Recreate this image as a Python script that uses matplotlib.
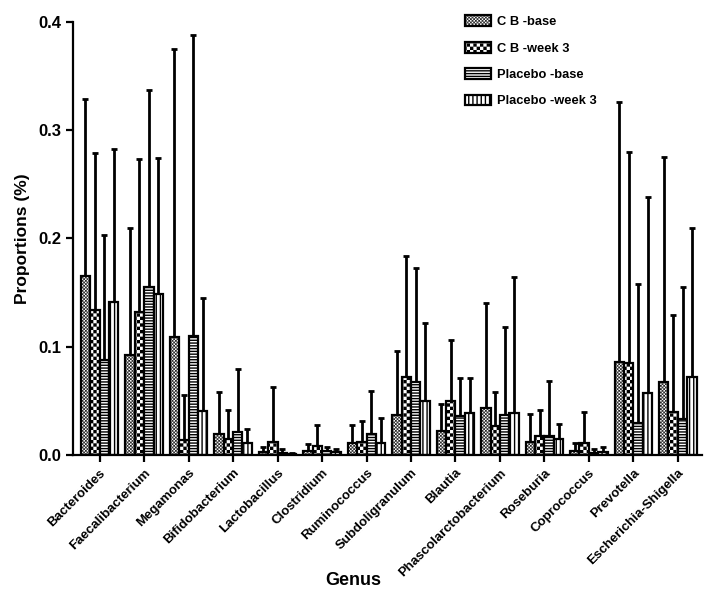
import warnings
import numpy as np
import matplotlib
matplotlib.use("Agg")
import matplotlib.pyplot as plt
from matplotlib import hatch as mhatch
from matplotlib.path import Path

warnings.filterwarnings("ignore")

genera = ["Bacteroides", "Faecalibacterium", "Megamonas", "Bifidobacterium",
          "Lactobacillus", "Clostridium", "Ruminococcus", "Subdoligranulum",
          "Blautia", "Phascolarctobacterium", "Roseburia", "Coprococcus",
          "Prevotella", "Escherichia-Shigella"]

series_names = ["C B -base", "C B -week 3", "Placebo -base", "Placebo -week 3"]

cb_base_mean = [0.165, 0.092, 0.109, 0.019, 0.003, 0.004, 0.011, 0.037, 0.0225, 0.043, 0.012, 0.004, 0.086, 0.067]
cb_base_sd = [0.164, 0.118, 0.266, 0.0395, 0.004, 0.006, 0.017, 0.059, 0.0245, 0.097, 0.026, 0.007, 0.240, 0.2085]

cb_week3_mean = [0.134, 0.132, 0.014, 0.015, 0.012, 0.0086, 0.012, 0.072, 0.050, 0.027, 0.018, 0.011, 0.085, 0.040]
cb_week3_sd = [0.145, 0.141, 0.041, 0.0265, 0.0505, 0.0194, 0.019, 0.112, 0.056, 0.0315, 0.0235, 0.029, 0.1945, 0.089]

pl_base_mean = [0.088, 0.155, 0.110, 0.0215, 0.002, 0.004, 0.019, 0.067, 0.036, 0.037, 0.018, 0.002, 0.030, 0.033]
pl_base_sd = [0.115, 0.182, 0.278, 0.0575, 0.0035, 0.003, 0.040, 0.106, 0.035, 0.081, 0.050, 0.004, 0.128, 0.122]

pl_week3_mean = [0.141, 0.149, 0.041, 0.011, 0.001, 0.003, 0.011, 0.050, 0.0385, 0.0385, 0.015, 0.003, 0.057, 0.072]
pl_week3_sd = [0.142, 0.125, 0.104, 0.013, 0.0005, 0.003, 0.0235, 0.072, 0.0325, 0.1255, 0.0136, 0.004, 0.181, 0.138]

y_ticks = [0.0, 0.1, 0.2, 0.3, 0.4]
y_tick_labels = ["0.0", "0.1", "0.2", "0.3", "0.4"]


# ---- custom checkerboard hatch ('c' characters) ----
class CheckerHatch(mhatch.HatchPatternBase):
    def __init__(self, hatch, density):
        cnt = hatch.count('c')
        n = int(cnt * density)
        if n % 2:
            n += 1
        self.n = n
        self.num_vertices = 5 * (n * n // 2) if n > 0 else 0

    def set_vertices_and_codes(self, vertices, codes):
        n = self.n
        inset = 0.0068
        k = 0
        for i in range(n):
            for j in range(n):
                if (i + j) % 2 == 0:
                    x0 = i / n + inset
                    y0 = j / n + inset
                    x1 = (i + 1) / n - inset
                    y1 = (j + 1) / n - inset
                    vertices[k:k + 5] = [[x0, y0], [x1, y0], [x1, y1], [x0, y1], [x0, y0]]
                    codes[k] = Path.MOVETO
                    codes[k + 1:k + 4] = Path.LINETO
                    codes[k + 4] = Path.CLOSEPOLY
                    k += 5


try:
    mhatch._hatch_types.append(CheckerHatch)
    hatches = ["c" * 10, "c" * 5, "-" * 6, "|" * 4]
except Exception:
    hatches = ["xxxx", "++", "-" * 6, "|" * 4]

plt.rcParams['font.family'] = ['Liberation Sans', 'DejaVu Sans']
plt.rcParams['font.weight'] = 'bold'
plt.rcParams['hatch.linewidth'] = 1.0
plt.rcParams['hatch.color'] = 'black'

fig = plt.figure(figsize=(7.08, 5.93), dpi=100)
ax = fig.add_axes([0.103, 0.2327, 0.889, 0.7303])

means = [cb_base_mean, cb_week3_mean, pl_base_mean, pl_week3_mean]
sds = [cb_base_sd, cb_week3_sd, pl_base_sd, pl_week3_sd]

x = np.arange(len(genera))
w = 0.212
offsets = [-1.5 * w, -0.5 * w, 0.5 * w, 1.5 * w]

for k in range(4):
    m = np.array(means[k])
    s = np.array(sds[k])
    ax.errorbar(x + offsets[k], m, yerr=[np.zeros_like(s), s], fmt='none',
                ecolor='black', elinewidth=2.0, capsize=2.2, capthick=2.0, zorder=1)
    ax.bar(x + offsets[k], m, width=w, color='white', edgecolor='black',
           linewidth=1.6, hatch=hatches[k], label=series_names[k], zorder=2)

ax.set_xlim(-0.6, 13.55)
ax.set_ylim(0, 0.4)
ax.set_yticks(y_ticks)
ax.set_yticklabels(y_tick_labels, fontsize=12, fontweight='bold')
ax.set_xticks(x)
ax.set_xticklabels(genera, rotation=45, ha='right', va='top', rotation_mode='anchor',
                   fontsize=9.5, fontweight='bold')

for side in ['top', 'right']:
    ax.spines[side].set_visible(False)
for side in ['left', 'bottom']:
    ax.spines[side].set_linewidth(1.6)
ax.tick_params(axis='both', direction='out', width=1.6, length=5)

ax.set_ylabel("Proportions (%)", fontsize=12.5, fontweight='bold', labelpad=6)
ax.set_xlabel("Genus", fontsize=13, fontweight='bold')
ax.xaxis.set_label_coords(0.445, -0.27)

leg = ax.legend(loc='upper left', bbox_to_anchor=(0.615, 1.027), frameon=False,
                prop={'size': 9.3, 'weight': 'bold'}, handlelength=2.0, handleheight=0.9,
                labelspacing=1.05, borderaxespad=0, handletextpad=0.5)

fig.savefig("out.png", dpi=100)
